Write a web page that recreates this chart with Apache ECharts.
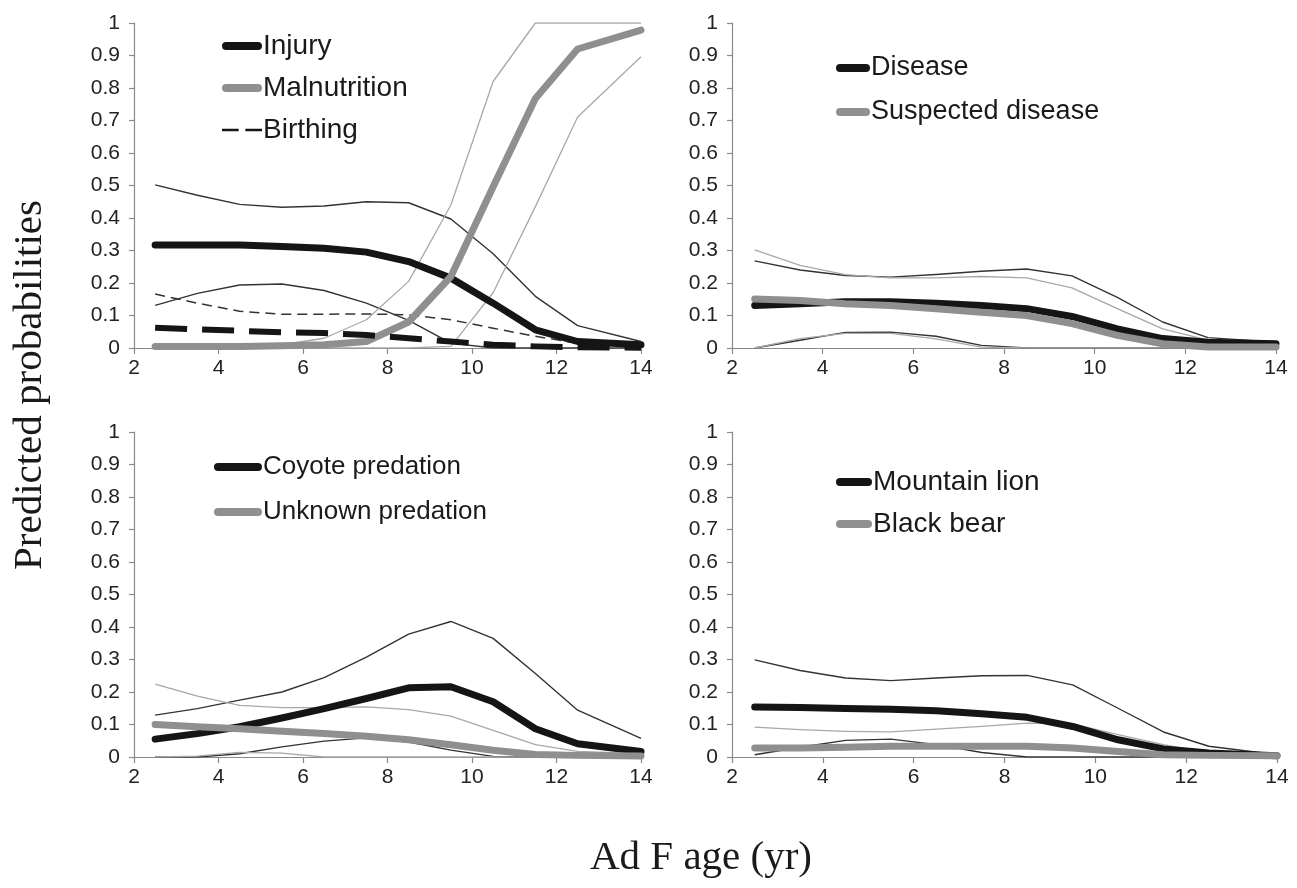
<!DOCTYPE html>
<html>
<head>
<meta charset="utf-8">
<script src="https://cdn.jsdelivr.net/npm/echarts@6/dist/echarts.min.js"></script>
<style>
  html, body { margin: 0; padding: 0; background: #ffffff; }
  #chart { width: 1297px; height: 888px; }
</style>
</head>
<body>
<div id="chart"></div>
<script>
// ---- data ----
const ages = [2.5, 3.5, 4.5, 5.5, 6.5, 7.5, 8.5, 9.5, 10.5, 11.5, 12.5, 14];
const xTicks = [2, 4, 6, 8, 10, 12, 14];

// Panel 1
const injury      = [0.317, 0.317, 0.317, 0.312, 0.307, 0.295, 0.266, 0.215, 0.138, 0.056, 0.020, 0.010];
const injuryHi    = [0.502, 0.470, 0.442, 0.433, 0.437, 0.450, 0.447, 0.397, 0.290, 0.159, 0.069, 0.020];
const injuryLo    = [0.131, 0.168, 0.194, 0.197, 0.177, 0.138, 0.085, 0.015, 0, 0, 0, 0];
const malnut      = [0.005, 0.005, 0.005, 0.007, 0.010, 0.020, 0.080, 0.220, 0.496, 0.768, 0.920, 0.978];
const malnutHi    = [0.005, 0.005, 0.006, 0.010, 0.030, 0.087, 0.205, 0.440, 0.820, 1, 1, 1];
const malnutLo    = [0, 0, 0, 0, 0, 0, 0, 0.005, 0.170, 0.435, 0.711, 0.896];
const birthing    = [0.062, 0.057, 0.053, 0.048, 0.046, 0.040, 0.030, 0.020, 0.010, 0.005, 0.002, 0.001];
const birthingHi  = [0.166, 0.138, 0.113, 0.104, 0.104, 0.105, 0.102, 0.087, 0.061, 0.036, 0.015, 0.005];

// Panel 2
const disease     = [0.131, 0.136, 0.142, 0.142, 0.138, 0.131, 0.121, 0.097, 0.059, 0.029, 0.018, 0.013];
const diseaseHi   = [0.268, 0.240, 0.223, 0.218, 0.226, 0.236, 0.243, 0.222, 0.156, 0.080, 0.032, 0.018];
const diseaseLo   = [0, 0.024, 0.048, 0.049, 0.036, 0.008, 0, 0, 0, 0, 0, 0];
const suspect     = [0.151, 0.146, 0.136, 0.131, 0.121, 0.110, 0.100, 0.075, 0.039, 0.013, 0.003, 0.003];
const suspectHi   = [0.302, 0.254, 0.226, 0.216, 0.216, 0.220, 0.216, 0.185, 0.121, 0.059, 0.024, 0.013];
const suspectLo   = [0, 0.029, 0.045, 0.045, 0.028, 0.003, 0, 0, 0, 0, 0, 0];

// Panel 3
const coyote      = [0.055, 0.072, 0.093, 0.120, 0.149, 0.180, 0.213, 0.216, 0.170, 0.087, 0.041, 0.017];
const coyoteHi    = [0.129, 0.149, 0.175, 0.200, 0.244, 0.307, 0.378, 0.417, 0.365, 0.257, 0.144, 0.057];
const coyoteLo    = [0, 0, 0.010, 0.031, 0.049, 0.059, 0.046, 0.021, 0.002, 0, 0, 0];
const unknown     = [0.100, 0.093, 0.087, 0.079, 0.072, 0.064, 0.053, 0.038, 0.021, 0.008, 0.005, 0.003];
const unknownHi   = [0.224, 0.187, 0.159, 0.152, 0.152, 0.154, 0.146, 0.126, 0.082, 0.038, 0.017, 0.010];
const unknownLo   = [0, 0.003, 0.014, 0.012, 0, 0, 0, 0, 0, 0, 0, 0];

// Panel 4
const lion        = [0.154, 0.152, 0.149, 0.147, 0.142, 0.133, 0.122, 0.094, 0.053, 0.025, 0.012, 0.004];
const lionHi      = [0.299, 0.266, 0.243, 0.235, 0.243, 0.250, 0.251, 0.222, 0.150, 0.077, 0.033, 0.007];
const lionLo      = [0.007, 0.030, 0.051, 0.055, 0.038, 0.014, 0, 0, 0, 0, 0, 0];
const bear        = [0.028, 0.028, 0.030, 0.033, 0.033, 0.033, 0.033, 0.028, 0.017, 0.007, 0.005, 0.004];
const bearHi      = [0.092, 0.084, 0.079, 0.077, 0.086, 0.094, 0.104, 0.102, 0.069, 0.038, 0.012, 0.004];

const yTitle = 'Predicted probabilities';
const xTitle = 'Ad F age (yr)';

// ---- styling ----
const SANS = "'Liberation Sans', Arial, sans-serif";
const SERIF = "'Liberation Serif', 'Times New Roman', serif";
const BLACK = '#151515', GREY = '#8f8f8f', THIN_BLACK = '#333333', THIN_GREY = '#a8a8a8';
const AXIS = '#8a8a8a';
function iconThick(w) { return 'path://M4,0 h' + (w - 8) + ' a4,4 0 0 1 0,8 h-' + (w - 8) + ' a4,4 0 0 1 0,-8 z'; }
const ICON_DASH = 'path://M0,0 h15 v2.4 h-15 z M21,0 h15 v2.4 h-15 z';

function pts(vals) { return ages.map((a, i) => [a, vals[i]]); }

function ser(name, idx, vals, color, width, dash, z, cap) {
  return {
    name: name, type: 'line', xAxisIndex: idx, yAxisIndex: idx,
    data: pts(vals), symbol: 'none', showSymbol: false, silent: true,
    z: z, animation: false,
    lineStyle: { color: color, width: width, type: dash || 'solid', cap: cap || 'butt', join: 'round' },
    itemStyle: { color: color }
  };
}
function thick(name, idx, vals, color, z) { return ser(name, idx, vals, color, 7, 'solid', z, 'round'); }
function thinB(name, idx, vals) { return ser(name, idx, vals, THIN_BLACK, 1.4, 'solid', 2); }
function thinG(name, idx, vals) { return ser(name, idx, vals, THIN_GREY, 1.3, 'solid', 2); }

const grids = [
  { left: 134, top: 23, width: 507, height: 325 },
  { left: 732, top: 23, width: 544, height: 325 },
  { left: 134, top: 432, width: 507, height: 325 },
  { left: 732, top: 432, width: 545, height: 325 }
];

const xAxes = grids.map((g, i) => ({
  type: 'value', gridIndex: i, min: xTicks[0], max: xTicks[xTicks.length - 1], interval: 2,
  axisLine: { show: true, onZero: false, lineStyle: { color: AXIS, width: 1.2 } },
  axisTick: { show: true, length: 6, lineStyle: { color: AXIS, width: 1.2 } },
  axisLabel: { fontSize: 21, color: '#222', margin: 10, fontFamily: SANS },
  splitLine: { show: false }
}));
const yAxes = grids.map((g, i) => ({
  type: 'value', gridIndex: i, min: 0, max: 1, interval: 0.1,
  axisLine: { show: true, lineStyle: { color: AXIS, width: 1.2 } },
  axisTick: { show: true, length: 5, lineStyle: { color: AXIS, width: 1.2 } },
  axisLabel: { fontSize: 21, color: '#222', margin: 14, fontFamily: SANS },
  splitLine: { show: false }
}));

const series = [
  // panel 1
  thinB('Injury upper', 0, injuryHi), thinB('Injury lower', 0, injuryLo),
  thinG('Malnutrition upper', 0, malnutHi), thinG('Malnutrition lower', 0, malnutLo),
  ser('Birthing upper', 0, birthingHi, THIN_BLACK, 1.5, [10, 6], 2),
  thick('Injury', 0, injury, BLACK, 5),
  thick('Malnutrition', 0, malnut, GREY, 6),
  ser('Birthing', 0, birthing, BLACK, 6, [32, 15], 7),
  // panel 2
  thinB('Disease upper', 1, diseaseHi), thinB('Disease lower', 1, diseaseLo),
  thinG('Suspected disease upper', 1, suspectHi), thinG('Suspected disease lower', 1, suspectLo),
  thick('Disease', 1, disease, BLACK, 5),
  thick('Suspected disease', 1, suspect, GREY, 6),
  // panel 3
  thinB('Coyote upper', 2, coyoteHi), thinB('Coyote lower', 2, coyoteLo),
  thinG('Unknown upper', 2, unknownHi), thinG('Unknown lower', 2, unknownLo),
  thick('Coyote predation', 2, coyote, BLACK, 5),
  thick('Unknown predation', 2, unknown, GREY, 6),
  // panel 4
  thinB('Lion upper', 3, lionHi), thinB('Lion lower', 3, lionLo),
  thinG('Bear upper', 3, bearHi),
  thick('Mountain lion', 3, lion, BLACK, 5),
  thick('Black bear', 3, bear, GREY, 6)
];

function legend(names, left, top, itemWidth, gap, fontSize, dashLast) {
  return {
    orient: 'vertical', left: left, top: top, padding: 0,
    itemWidth: itemWidth, itemHeight: 8, itemGap: gap,
    selectedMode: false, symbolKeepAspect: true,
    textStyle: { fontSize: fontSize, color: '#1a1a1a', fontFamily: SANS, lineHeight: 30, padding: [0, 0, 0, -4] },
    data: names.map((n, i) => ({
      name: n,
      icon: (dashLast && i === names.length - 1) ? ICON_DASH : iconThick(itemWidth),
      itemStyle: { borderWidth: 0 }
    }))
  };
}

const option = {
  backgroundColor: '#ffffff',
  animation: false,
  grid: grids,
  xAxis: xAxes,
  yAxis: yAxes,
  legend: [
    legend(['Injury', 'Malnutrition', 'Birthing'], 222, 31, 40, 12, 28, true),
    legend(['Disease', 'Suspected disease'], 836, 53, 34, 14, 27, false),
    legend(['Coyote predation', 'Unknown predation'], 214, 452, 48, 15, 26, false),
    legend(['Mountain lion', 'Black bear'], 836, 467, 36, 12, 28, false)
  ],
  series: series,
  graphic: [
    { type: 'text', x: 30, y: 385, rotation: Math.PI / 2,
      style: { text: yTitle, font: '41px ' + SERIF, fill: '#1a1a1a', textAlign: 'center', textVerticalAlign: 'middle' } },
    { type: 'text', x: 701, y: 858,
      style: { text: xTitle, font: '41px ' + SERIF, fill: '#1a1a1a', textAlign: 'center', textVerticalAlign: 'middle' } }
  ]
};

const chart = echarts.init(document.getElementById('chart'), null, { renderer: 'canvas' });
chart.setOption(option);
</script>
</body>
</html>
